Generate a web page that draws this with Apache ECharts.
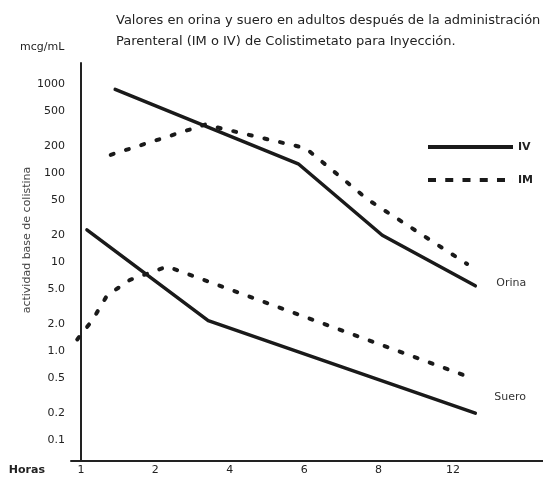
<!DOCTYPE html>
<html><head><meta charset="utf-8">
<script src="https://cdn.jsdelivr.net/npm/echarts@6/dist/echarts.min.js"></script>
<style>html,body{margin:0;padding:0;background:#fff}#c{width:543px;height:479px}</style>
</head><body><div id="c"></div>
<script>
// Tick labels
const hourTicks = [1, 2, 4, 6, 8, 12];
const hourLabels = ['1', '2', '4', '6', '8', '12'];
const yTickLabels = ['0.1','0.2','0.5','1.0','2.0','5.0','10','20','50','100','200','500','1000'];

// Series (hours, mcg/mL)
const ivOrinaHours  = [1.46, 5.84, 8.2, 13.2];
const ivOrinaValues = [870, 127, 20, 5.4];
const imOrinaHours  = [1.40, 3.34, 6.04, 7.72, 12.76];
const imOrinaValues = [160, 350, 190, 50, 9.5];
const ivSueroHours  = [1.08, 3.42, 13.2];
const ivSueroValues = [23, 2.2, 0.2];
const imSueroHours  = [0.95, 1.15, 1.35, 1.66, 2.32, 12.64];
const imSueroValues = [1.35, 2.2, 4.2, 6.3, 8.9, 0.53];

// The "Horas" axis is drawn with evenly spaced ticks; map hours onto that ordinal axis
function hourToSlot(h) {
  const n = hourTicks.length;
  let k = 0;
  if (h >= hourTicks[n - 1]) k = n - 2;
  else if (h > hourTicks[0]) { while (h > hourTicks[k + 1]) k++; }
  return k + (h - hourTicks[k]) / (hourTicks[k + 1] - hourTicks[k]);
}
function pairs(hours, values) { return hours.map((h, i) => [hourToSlot(h), values[i]]); }

const FONT = 'DejaVu Sans';
const INK = '#1a1a1a';
const solid = { color: INK, width: 3.5, cap: 'round', join: 'round' };
const dotted = { color: INK, width: 4, type: [3, 13], cap: 'round' };

// legend glyphs: a solid bar and five dashes
const solidIcon = 'path://M0,0h85v4h-85z';
const dashIcon = 'path://M0,0h8v4h-8zM17.25,0h8v4h-8zM34.5,0h8v4h-8zM51.75,0h8v4h-8zM69,0h8v4h-8zM85,0h0.01v4h-0.01z';

const chart = echarts.init(document.getElementById('c'), null, { renderer: 'canvas' });
chart.setOption({
  animation: false,
  backgroundColor: '#fff',
  title: [
    { text: 'Valores en orina y suero en adultos después de la administración\nParenteral (IM o IV) de Colistimetato para Inyección.',
      left: 116, top: 10, padding: 0,
      textStyle: { fontFamily: FONT, fontSize: 13, fontWeight: 'normal', color: '#222', lineHeight: 21 } },
    { text: 'mcg/mL', left: 20, top: 42, padding: 0,
      textStyle: { fontFamily: FONT, fontSize: 11, fontWeight: 'normal', color: '#222' } }
  ],
  legend: {
    orient: 'vertical', left: 428, top: 140, padding: 0,
    itemWidth: 85, itemHeight: 4, itemGap: 19,
    textStyle: { fontFamily: FONT, fontSize: 11, fontWeight: 'bold', color: '#222', lineHeight: 14 },
    itemStyle: { color: INK },
    data: [
      { name: 'IV', icon: solidIcon },
      { name: 'IM', icon: dashIcon }
    ]
  },
  grid: { left: 71, right: 0, top: 63, bottom: 18 },
  xAxis: {
    type: 'value', min: -0.134, max: 6.21,
    name: 'Horas', nameLocation: 'start', nameGap: 26,
    nameTextStyle: { fontFamily: FONT, fontSize: 11, fontWeight: 'bold', color: '#222', verticalAlign: 'top', padding: [4, 0, 0, 0] },
    axisLine: { show: true, onZero: false, lineStyle: { color: '#222', width: 2 } },
    axisTick: { show: false }, splitLine: { show: false },
    axisLabel: {
      customValues: hourTicks.map(hourToSlot),
      formatter: v => hourLabels[Math.round(v)],
      fontFamily: FONT, fontSize: 11, color: '#222', margin: 4
    }
  },
  yAxis: {
    type: 'log', min: 0.0581, max: 1722,
    name: 'actividad base de colistina', nameLocation: 'middle', nameGap: 38, nameMoveOverlap: false,
    nameTextStyle: { fontFamily: FONT, fontSize: 11, color: '#444', padding: [0, 0, 0, 44] },
    axisLine: { show: true, lineStyle: { color: '#222', width: 2 } },
    axisTick: { show: false }, splitLine: { show: false }, minorSplitLine: { show: false },
    axisLabel: {
      customValues: yTickLabels.map(Number),
      formatter: v => {
        const f = yTickLabels.find(l => Math.abs(Number(l) - v) <= 1e-6 * Math.max(1, v));
        return f === undefined ? '' : f;
      },
      fontFamily: FONT, fontSize: 11, color: '#222', margin: 6
    }
  },
  series: [
    { name: 'IV', type: 'line', data: pairs(ivOrinaHours, ivOrinaValues), symbol: 'none',
      lineStyle: solid, itemStyle: { color: INK },
      endLabel: { show: true, formatter: 'Orina', offset: [13, -3], fontFamily: FONT, fontSize: 11, color: '#333' } },
    { name: 'IV', type: 'line', data: pairs(ivSueroHours, ivSueroValues), symbol: 'none',
      lineStyle: solid, itemStyle: { color: INK },
      endLabel: { show: true, formatter: 'Suero', offset: [11, -16], fontFamily: FONT, fontSize: 11, color: '#333' } },
    { name: 'IM', type: 'line', data: pairs(imOrinaHours, imOrinaValues), symbol: 'none',
      lineStyle: dotted, itemStyle: { color: INK } },
    { name: 'IM', type: 'line', data: pairs(imSueroHours, imSueroValues), symbol: 'none',
      lineStyle: dotted, itemStyle: { color: INK } }
  ]
});
</script></body></html>
